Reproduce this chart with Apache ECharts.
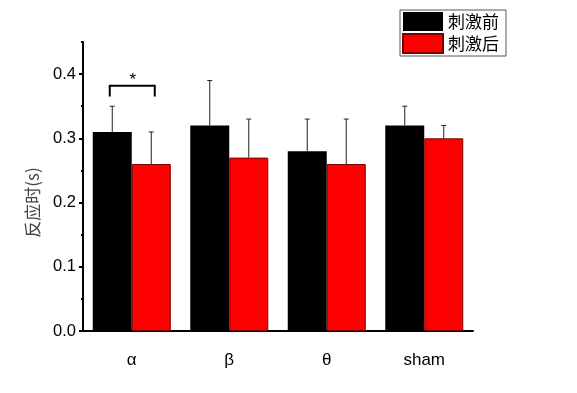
<!DOCTYPE html>
<html><head><meta charset="utf-8">
<script src="https://cdn.jsdelivr.net/npm/echarts@6/dist/echarts.min.js"></script>
<style>html,body{margin:0;padding:0;background:#fff}#c{width:577px;height:393px}</style>
</head><body><div id="c"></div>
<script>
const categories = ['α', 'β', 'θ', 'sham'];
const seriesNames = ['刺激前', '刺激后'];
const beforeValues = [0.31, 0.32, 0.28, 0.32];
const beforeErrors = [0.04, 0.07, 0.05, 0.03];
const afterValues = [0.26, 0.27, 0.26, 0.30];
const afterErrors = [0.05, 0.06, 0.07, 0.02];
const yTicks = [0, 0.1, 0.2, 0.3, 0.4];
const bracket = { category: 0, top: 0.382, leg: 0.365, label: '*' };

const BW = 39;
const chart = echarts.init(document.getElementById('c'));
function errSeries(vals, errs, off) {
  return {
    type: 'custom', z: 1, silent: true,
    data: vals.map((v, i) => [i, v, errs[i]]),
    renderItem: function (params, api) {
      const i = api.value(0), v = api.value(1), e = api.value(2);
      const p0 = api.coord([i, v]), p1 = api.coord([i, v + e]);
      const x = p0[0] + off;
      const st = { stroke: '#222', lineWidth: 1 };
      return { type: 'group', children: [
        { type: 'line', shape: { x1: x, y1: p0[1], x2: x, y2: p1[1] }, style: st },
        { type: 'line', shape: { x1: x - 2.5, y1: p1[1], x2: x + 2.5, y2: p1[1] }, style: st }
      ]};
    }
  };
}
const option = {
  animation: false,
  textStyle: { fontFamily: 'Liberation Sans, Arial, sans-serif' },
  legend: {
    left: 400, top: 10, orient: 'vertical',
    itemWidth: 40, itemHeight: 19, itemGap: 2,
    padding: [2, 7, 2, 2],
    borderColor: '#555', borderWidth: 1,
    icon: 'rect',
    data: seriesNames,
    textStyle: { fontFamily: 'Noto Sans CJK SC', fontSize: 17, color: '#000' }
  },
  grid: { left: 83, right: 104, top: 42, bottom: 62 },
  xAxis: [{
    type: 'category', data: categories,
    axisLine: { lineStyle: { color: '#000', width: 2 } },
    axisTick: { alignWithLabel: true, length: 4, lineStyle: { color: '#000', width: 2 } },
    axisLabel: { color: '#000', fontSize: 17, margin: 21 }
  }, {
    type: 'category', data: categories, position: 'bottom',
    axisLine: { show: false },
    axisTick: { length: 2, lineStyle: { color: '#000', width: 2 } },
    axisLabel: { show: false }
  }],
  yAxis: [{
    type: 'value', min: 0, max: 0.45,
    name: '反应时(s)', nameLocation: 'middle', nameGap: 42, nameRotate: 90,
    nameTextStyle: { fontFamily: 'Noto Sans CJK SC', fontSize: 17, color: '#444', padding: [0, 0, 0, -32] },
    splitLine: { show: false },
    axisLine: { show: true, lineStyle: { color: '#000', width: 2 } },
    axisTick: { show: true, length: 4, customValues: yTicks, lineStyle: { color: '#000', width: 2 } },
    axisLabel: { color: '#000', fontSize: 16.5, margin: 7, customValues: yTicks, formatter: v => v.toFixed(1) }
  }, {
    type: 'value', min: 0, max: 0.45, interval: 0.05, position: 'left',
    splitLine: { show: false },
    axisLine: { show: false },
    axisTick: { show: true, length: 2, lineStyle: { color: '#000', width: 2 } },
    axisLabel: { show: false }
  }],
  series: [
    { name: seriesNames[0], type: 'bar', data: beforeValues, barWidth: BW, barGap: '0%',
      itemStyle: { color: '#000' } },
    { name: seriesNames[1], type: 'bar', data: afterValues, barWidth: BW, barGap: '0%',
      itemStyle: { color: '#ff0000', borderColor: '#7a0000', borderWidth: 1 } },
    errSeries(beforeValues, beforeErrors, -BW / 2),
    errSeries(afterValues, afterErrors, BW / 2),
    {
      type: 'custom', silent: true, z: 5,
      data: [[bracket.category, bracket.top, bracket.leg]],
      renderItem: function (params, api) {
        const i = api.value(0);
        const pt = api.coord([i, api.value(1)]);
        const pl = api.coord([i, api.value(2)]);
        const xl = pt[0] - 22, xr = pt[0] + 23;
        return { type: 'group', children: [
          { type: 'polyline', shape: { points: [[xl, pl[1]], [xl, pt[1]], [xr, pt[1]], [xr, pl[1]]] },
            style: { stroke: '#000', lineWidth: 2, fill: null } },
          { type: 'text', style: { text: bracket.label, x: pt[0] + 1, y: pt[1] + 3, align: 'center', verticalAlign: 'bottom',
            fill: '#000', font: '17px Liberation Sans' } }
        ]};
      }
    }
  ]
};
chart.setOption(option);
</script></body></html>
